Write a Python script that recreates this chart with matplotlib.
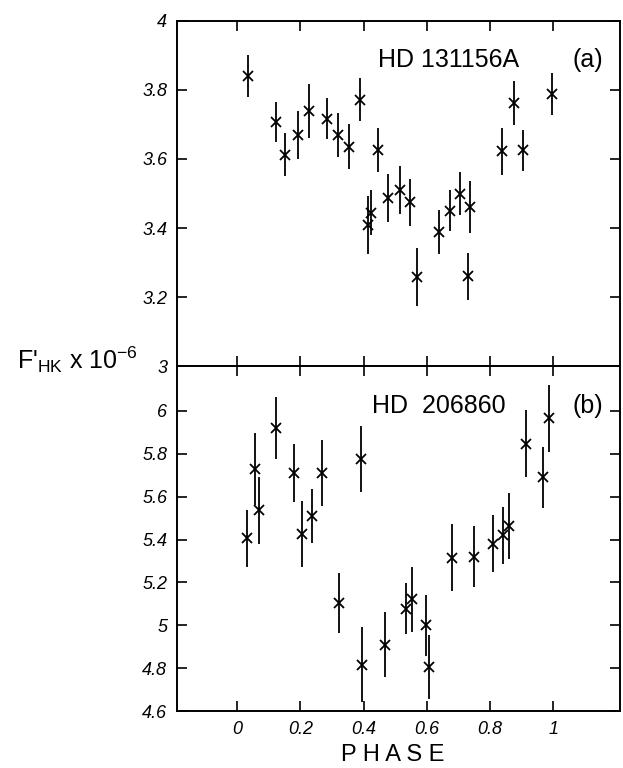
import matplotlib.pyplot as plt
from matplotlib.ticker import FuncFormatter

plt.rcParams['font.family'] = 'Liberation Sans'
plt.rcParams['mathtext.default'] = 'regular'

# (a) HD 131156A
phase_a = [0.034, 0.123, 0.150, 0.193, 0.228, 0.283, 0.320, 0.353, 0.389, 0.414,
           0.422, 0.446, 0.477, 0.514, 0.546, 0.570, 0.638, 0.672, 0.706, 0.730,
           0.737, 0.838, 0.875, 0.905, 0.996]
flux_a = [3.841, 3.708, 3.612, 3.669, 3.738, 3.717, 3.669, 3.636, 3.771, 3.409,
          3.444, 3.625, 3.487, 3.510, 3.475, 3.258, 3.388, 3.450, 3.500, 3.260,
          3.461, 3.623, 3.762, 3.625, 3.788]
err_a = [0.061, 0.058, 0.062, 0.070, 0.078, 0.058, 0.064, 0.065, 0.062, 0.084,
         0.065, 0.064, 0.069, 0.069, 0.068, 0.084, 0.063, 0.059, 0.063, 0.069,
         0.075, 0.068, 0.064, 0.059, 0.060]

# (b) HD 206860
phase_b = [0.031, 0.057, 0.068, 0.123, 0.180, 0.206, 0.238, 0.267, 0.323, 0.391,
           0.395, 0.469, 0.533, 0.554, 0.596, 0.606, 0.680, 0.749, 0.809, 0.840,
           0.861, 0.914, 0.966, 0.987]
flux_b = [5.406, 5.729, 5.536, 5.921, 5.710, 5.427, 5.510, 5.710, 5.104, 5.774,
          4.817, 4.910, 5.078, 5.121, 5.000, 4.806, 5.316, 5.320, 5.381, 5.419,
          5.462, 5.847, 5.690, 5.964]
err_b = [0.133, 0.169, 0.155, 0.145, 0.133, 0.153, 0.126, 0.155, 0.142, 0.154,
         0.174, 0.153, 0.119, 0.151, 0.142, 0.151, 0.157, 0.141, 0.132, 0.133,
         0.153, 0.157, 0.143, 0.157]

xticks = [0, 0.2, 0.4, 0.6, 0.8, 1]
yticks_a = [3, 3.2, 3.4, 3.6, 3.8, 4]
yticks_b = [4.6, 4.8, 5, 5.2, 5.4, 5.6, 5.8, 6]

fig = plt.figure(figsize=(6.23, 7.68), dpi=100)
ax1 = fig.add_axes([0.284, 0.523, 0.711, 0.450])
ax2 = fig.add_axes([0.284, 0.074, 0.711, 0.449], sharex=ax1)

def g_fmt(v, pos):
    return '%g' % round(v, 2)

for ax, x, y, e, lims, yt, name, tag, nx in [
        (ax1, phase_a, flux_a, err_a, (3, 4), yticks_a, 'HD 131156A', '(a)', 0.454),
        (ax2, phase_b, flux_b, err_b, (4.6, 6.207), yticks_b, 'HD  206860', '(b)', 0.44)]:
    ax.errorbar(x, y, yerr=e, fmt='none', ecolor='black', elinewidth=1.3, capsize=0)
    ax.plot(x, y, 'x', color='black', markersize=6.5, markeredgewidth=1.3)
    ax.set_xlim(-0.19, 1.21)
    ax.set_ylim(*lims)
    ax.set_yticks(yt)
    ax.yaxis.set_major_formatter(FuncFormatter(g_fmt))
    ax.set_xticks(xticks)
    ax.tick_params(direction='in', length=7, width=1.2, top=True, right=True,
                   labelsize=13, pad=7)
    for lab in ax.get_yticklabels() + ax.get_xticklabels():
        lab.set_fontstyle('italic')
    for s in ax.spines.values():
        s.set_linewidth(1.4)
    ax.text(nx, 0.885, name, transform=ax.transAxes, fontsize=18,
            ha='left', va='center')
    ax.text(0.894, 0.885, tag, transform=ax.transAxes, fontsize=18,
            ha='left', va='center')

ax1.tick_params(labelbottom=False)
ax2.xaxis.set_major_formatter(FuncFormatter(g_fmt))
for lab in ax2.get_xticklabels():
    lab.set_fontstyle('italic')

fig.text(0.631, 0.003, 'P H A S E', fontsize=17, ha='center', va='bottom')
fig.text(0.027, 0.531, r"F$'_{HK}$ x 10$^{-6}$", fontsize=18, ha='left', va='center')

fig.savefig('out.png', dpi=100)
